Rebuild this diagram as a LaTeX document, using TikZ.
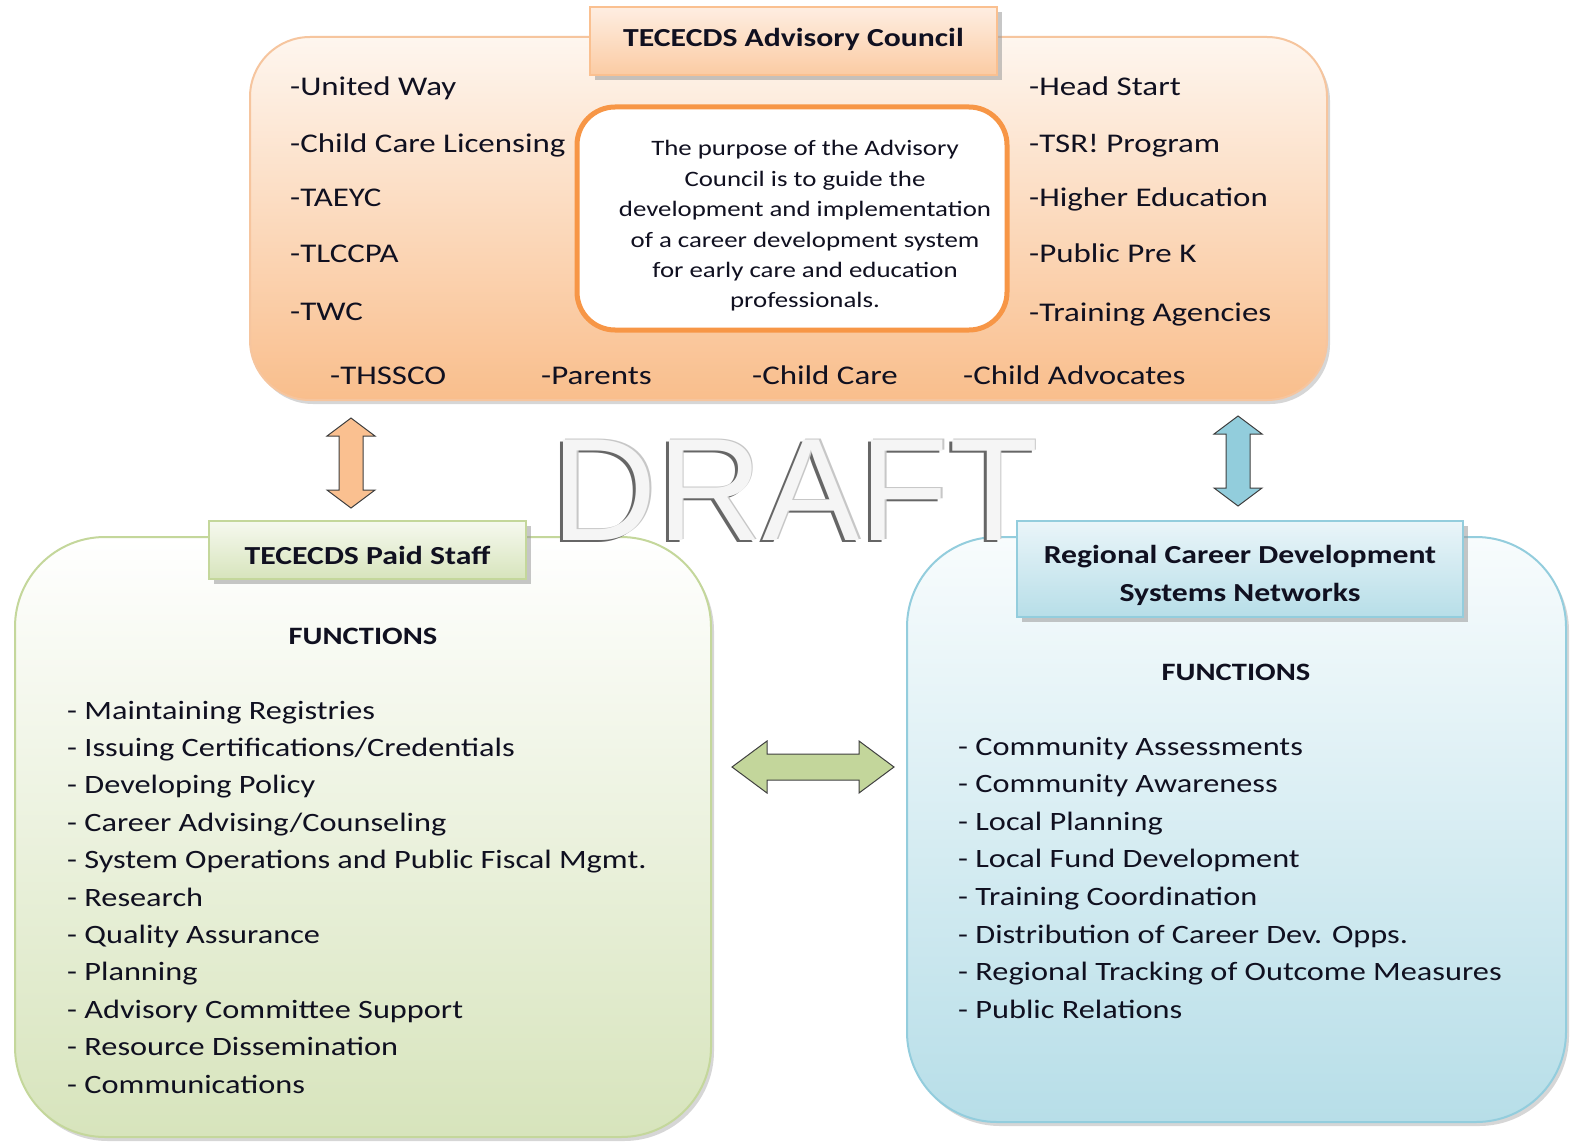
\documentclass[tikz,border=0pt]{standalone}
\usepackage{fontspec}
\setmainfont{Carlito}[FakeStretch=1.22]
\newfontfamily\draftfont{Liberation Sans}
\usetikzlibrary{shadows}
\definecolor{orTop}{HTML}{FEF6EF}
\definecolor{orBot}{HTML}{F9BE8C}
\definecolor{orLine}{HTML}{F6C59E}
\definecolor{orDeep}{HTML}{F79646}
\definecolor{orTitleTop}{HTML}{FEEEE2}
\definecolor{orTitleBot}{HTML}{FBCBA3}
\definecolor{orArrow}{HTML}{FAC090}
\definecolor{grTop}{HTML}{FFFFFF}
\definecolor{grBot}{HTML}{D7E4BC}
\definecolor{grLine}{HTML}{C4D79B}
\definecolor{grTitleTop}{HTML}{F6F9EF}
\definecolor{grArrow}{HTML}{C3D69B}
\definecolor{blTop}{HTML}{F8FCFD}
\definecolor{blBot}{HTML}{B7DEE8}
\definecolor{blLine}{HTML}{93CDDD}
\definecolor{blTitleTop}{HTML}{EAF5F9}
\definecolor{blArrow}{HTML}{92CDDC}
\definecolor{ink}{HTML}{101020}
\tikzset{
  bigbox/.style={rounded corners=#1, line width=2pt, inner sep=0pt,
    drop shadow={shadow xshift=3pt, shadow yshift=-4pt, opacity=0.35, fill=black!45}},
  titlebox/.style={line width=1.2pt, inner sep=0pt, align=center, text=ink,
    font=\bfseries\fontsize{26}{38}\selectfont,
    drop shadow={shadow xshift=5pt, shadow yshift=-5pt, opacity=0.55, fill=black!40}},
  member/.style={anchor=west, inner sep=0pt, text=ink, font=\fontsize{27}{32}\selectfont, text height=26pt, text depth=4pt},
  item/.style={anchor=west, inner sep=0pt, text=ink, font=\fontsize{26.5}{32}\selectfont, text height=26pt, text depth=4pt},
  funchead/.style={inner sep=0pt, text=ink, font=\bfseries\fontsize{25}{30}\selectfont},
  vdarrow/.pic={\draw[pic actions] (0,-45) -- (24,-27) -- (12,-27) -- (12,27) -- (24,27) -- (0,45)
      -- (-24,27) -- (-12,27) -- (-12,-27) -- (-24,-27) -- cycle;},
  hdarrow/.pic={\draw[pic actions] (-81,0) -- (-46,-26) -- (-46,-13) -- (46,-13) -- (46,-26) -- (81,0)
      -- (46,26) -- (46,13) -- (-46,13) -- (-46,26) -- cycle;},
  blockarrow/.style={draw=black!75, line width=1pt, line join=miter}
}
\begin{document}
\begin{tikzpicture}[x=1pt,y=-1pt]
\useasboundingbox[fill=white] (0,0) rectangle (1576,1145);

% ---------- Advisory council ----------
\node[bigbox=60pt, draw=orLine, top color=orTop, bottom color=orBot,
      minimum width=1077pt, minimum height=363pt] (council) at (788.5,218.5) {};
\node[rounded corners=38pt, draw=orDeep, line width=5pt, fill=white,
      minimum width=430pt, minimum height=223pt, inner sep=0pt] (purposebox) at (792,218.5) {};
\node[align=center, inner sep=0pt, text=ink, font=\fontsize{22}{30.4}\selectfont] (purpose) at (805,226)
  {The purpose of the Advisory\\Council is to guide the\\development and implementation\\of a career development system\\for early care and education\\professionals.};
\node[titlebox, draw=orArrow, top color=orTitleTop, bottom color=orTitleBot,
      minimum width=407pt, minimum height=68pt] (ctitle) at (793.5,41) {\raisebox{-6pt}[0pt][0pt]{TECECDS Advisory Council}};

\node[member] (m1) at (290,85) {-United Way};
\node[member] (m2) at (290,141) {-Child Care Licensing};
\node[member] (m3) at (290,195) {-TAEYC};
\node[member] (m4) at (290,251) {-TLCCPA};
\node[member] (m5) at (290,309) {-TWC};
\node[member] (m6) at (1029,85) {-Head Start};
\node[member] (m7) at (1029,141) {-TSR! Program};
\node[member] (m8) at (1029,195) {-Higher Education};
\node[member] (m9) at (1029,251) {-Public Pre K};
\node[member] (m10) at (1029,310) {-Training Agencies};
\node[member] (m11) at (330,373) {-THSSCO};
\node[member] (m12) at (541,373) {-Parents};
\node[member] (m13) at (752,373) {-Child Care};
\node[member] (m14) at (963,373) {-Child Advocates};

% ---------- Paid staff ----------
\node[bigbox=90pt, draw=grLine, top color=grTop, bottom color=grBot,
      minimum width=696pt, minimum height=600pt] (staff) at (363,837) {};
% ---------- Regional networks ----------
\node[bigbox=90pt, draw=blLine, top color=blTop, bottom color=blBot,
      minimum width=659pt, minimum height=585pt] (regional) at (1236.5,829.5) {};

% ---------- DRAFT watermark ----------
\node[anchor=base, inner sep=0pt, font=\draftfont\fontsize{146}{146}\selectfont] (draft) at (795,540)
  {\rlap{\kern-3pt\raisebox{-2pt}{\color{black!60}DRAFT}}\rlap{\kern1.5pt\raisebox{1pt}{\color{black!22}DRAFT}}\textcolor{black!4}{DRAFT}};

\node[titlebox, draw=grLine, top color=grTitleTop, bottom color=grBot,
      minimum width=317pt, minimum height=58pt] (stitle) at (367.5,550) {\raisebox{-14pt}[0pt][0pt]{TECECDS Paid Staff}};
\node[titlebox, draw=blLine, top color=blTitleTop, bottom color=blBot,
      minimum width=446pt, minimum height=96pt] (rtitle) at (1240,569) {\raisebox{-13pt}[0pt][0pt]{\parbox{440pt}{\centering Regional Career Development\\Systems Networks}}};

\node[funchead] (sfun) at (363,636) {FUNCTIONS};
\node[funchead] (rfun) at (1236,672) {FUNCTIONS};

\foreach \t [count=\i] in {Maintaining Registries, Issuing Certifications/Credentials, Developing Policy,
  Career Advising/Counseling, System Operations and Public Fiscal Mgmt., Research, Quality Assurance,
  Planning, Advisory Committee Support, Resource Dissemination, Communications}
  \node[item] (s\i) at (67,{708+37.4*(\i-1)}) {- \t};

\foreach \t [count=\i] in {Community Assessments, Community Awareness, Local Planning, Local Fund Development,
  Training Coordination, Distribution of Career Dev. Opps., Regional Tracking of Outcome Measures, Public Relations}
  \node[item] (r\i) at (958,{744+37.6*(\i-1)}) {- \t};

% ---------- block arrows ----------
\pic[blockarrow, fill=orArrow] at (351,463) {vdarrow};
\pic[blockarrow, fill=blArrow] at (1238,461) {vdarrow};
\pic[blockarrow, fill=grArrow] at (813,767) {hdarrow};
\end{tikzpicture}
\end{document}
